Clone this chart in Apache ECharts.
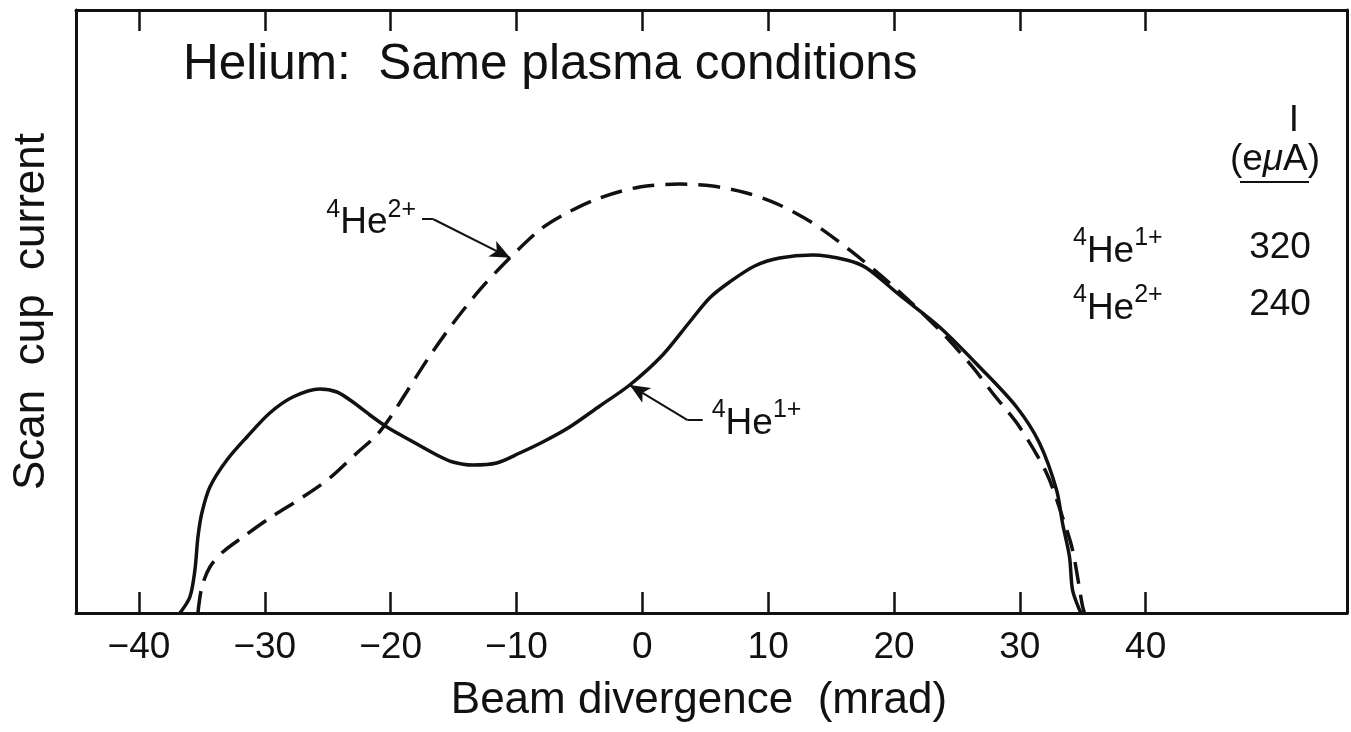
<!DOCTYPE html>
<html>
<head>
<meta charset="utf-8">
<title>Helium: Same plasma conditions</title>
<script src="https://cdn.jsdelivr.net/npm/echarts@6/dist/echarts.min.js"></script>
<style>
html, body { margin: 0; height: 100%; background: #fff; }
#main { width: 1351px; height: 732px; }
</style>
</head>
<body>
<div id="main"></div>
<script>
// tick labels along the divergence axis (mrad)
var divTicks = [-40, -30, -20, -10, 0, 10, 20, 30, 40];

// 4He1+ (solid) - divergence (mrad) / scan cup current (arb. units, frame top = 100)
var he1Div = [-36.74, -35.95, -35.55, -35.31, -35.0, -34.36, -33.01, -31.42, -29.6, -27.77,
  -25.62, -24.27, -23.0, -21.65, -20.3, -18.48, -16.33, -15.06, -13.47, -11.57,
  -9.74, -7.91, -5.77, -3.38, -1.0, 1.62, 3.76, 5.35, 6.94, 8.93,
  10.91, 13.53, 16.23, 17.82, 20.44, 23.62, 26.8, 29.74, 31.56, 32.92,
  33.39, 33.95, 34.19, 34.74, 34.9];
var he1Cur = [0, 2.65, 7.13, 12.6, 16.58, 20.9, 25.37, 29.19, 33.17, 35.82,
  37.15, 36.65, 34.99, 32.84, 30.85, 28.69, 26.2, 25.04, 24.54, 24.88,
  26.53, 28.36, 30.85, 34.33, 37.81, 42.79, 48.26, 52.24, 54.89, 57.55,
  58.87, 59.37, 58.54, 57.21, 52.74, 47.43, 40.8, 34.16, 28.19, 20.4,
  14.93, 9.29, 3.81, 0.5, 0];

// 4He2+ (dashed)
var he2Div = [-35.31, -35.0, -34.36, -33.33, -31.74, -29.6, -26.97, -24.83, -22.68, -21.1,
  -20.06, -18.48, -16.89, -14.9, -12.92, -10.93, -8.15, -6.0, -3.38,
  -0.21, 2.97, 5.59, 8.29, 10.91, 13.53, 16.47, 19.65, 23.62, 26.24,
  27.83, 29.98, 32.12, 33.39, 34.19, 34.98, 35.14];
var he2Cur = [0, 4.31, 7.63, 10.12, 12.6, 15.75, 19.24, 22.39, 26.53, 29.52,
  32.34, 37.48, 42.62, 48.42, 53.57, 58.04, 63.52, 66.33, 68.82,
  70.65, 71.14, 70.81, 69.65, 67.66, 64.68, 60.2, 54.73, 46.93, 40.8,
  36.48, 30.85, 23.22, 15.92, 10.45, 1.16, 0];

// table on the right: charge state and current (e uA)
var tableCharge = ['1+', '2+'];
var tableCurrent = [320, 240];

var FONT = '"Liberation Sans", Arial, Helvetica, sans-serif';
var ink = '#111';

function pairs(xs, ys) {
  return xs.map(function (x, i) { return [x, ys[i]]; });
}
function ionText(q) {
  return '{sup|4}{base|He}{sup|' + q + '}';
}
var ionRich = {
  base: { fontSize: 37, fontFamily: FONT, color: ink, lineHeight: 44, verticalAlign: 'bottom' },
  sup: { fontSize: 25, fontFamily: FONT, color: ink, lineHeight: 23, verticalAlign: 'top' }
};

var frameLine = { show: true, onZero: false, lineStyle: { color: ink, width: 3 } };
var tickStyle = { show: true, inside: true, length: 21, customValues: divTicks,
  lineStyle: { color: ink, width: 2.5 } };

var myChart = echarts.init(document.getElementById('main'));

myChart.setOption({
  backgroundColor: '#fff',
  animation: false,
  grid: { left: 76, right: 4, top: 10, bottom: 119 },
  xAxis: [
    {
      type: 'value', min: -45, max: 56, position: 'bottom',
      axisLine: frameLine, axisTick: tickStyle, splitLine: { show: false },
      axisLabel: {
        customValues: divTicks, fontSize: 37, fontFamily: FONT, color: ink, margin: 16,
        formatter: function (v) { return v < 0 ? '\u2212' + (-v) : '' + v; }
      },
      name: 'Beam divergence  (mrad)', nameLocation: 'middle', nameGap: 66,
      nameTextStyle: { fontSize: 44, fontFamily: FONT, color: ink, padding: [0, 25, 0, 0] }
    },
    {
      type: 'value', min: -45, max: 56, position: 'top',
      axisLine: frameLine, axisTick: tickStyle, splitLine: { show: false },
      axisLabel: { show: false }
    }
  ],
  yAxis: [
    {
      type: 'value', min: 0, max: 100, position: 'left',
      axisLine: frameLine, axisTick: { show: false }, axisLabel: { show: false },
      splitLine: { show: false },
      name: 'Scan  cup  current', nameLocation: 'middle', nameRotate: 90, nameGap: 22,
      nameTextStyle: { fontSize: 44, fontFamily: FONT, color: ink }
    },
    {
      type: 'value', min: 0, max: 100, position: 'right',
      axisLine: frameLine, axisTick: { show: false }, axisLabel: { show: false },
      splitLine: { show: false }
    }
  ],
  series: [
    {
      name: '4He1+', type: 'line', data: pairs(he1Div, he1Cur),
      showSymbol: false, smooth: 0.3,
      lineStyle: { color: ink, width: 3.5 },
      markLine: {
        silent: true, symbol: ['none', 'arrow'], symbolSize: [13, 20],
        lineStyle: { color: ink, width: 2, type: 'solid' }, label: { show: false },
        data: [
          [{ coord: [4.8, 32.0], symbol: 'none' }, { coord: [3.6, 32.0], symbol: 'none' }],
          [{ coord: [3.6, 32.0] }, { coord: [-1.0, 37.8] }]
        ]
      },
      markPoint: {
        silent: true, symbol: 'circle', symbolSize: 0,
        data: [{
          coord: [4.8, 32.0],
          label: { show: true, position: 'right', distance: 9, formatter: ionText('1+'), rich: ionRich }
        }]
      }
    },
    {
      name: '4He2+', type: 'line', data: pairs(he2Div, he2Cur),
      showSymbol: false, smooth: 0.3,
      lineStyle: { color: ink, width: 3.5, type: [22, 11] },
      markLine: {
        silent: true, symbol: ['none', 'arrow'], symbolSize: [13, 20],
        lineStyle: { color: ink, width: 2, type: 'solid' }, label: { show: false },
        data: [
          [{ coord: [-17.5, 65.3], symbol: 'none' }, { coord: [-16.6, 65.3], symbol: 'none' }],
          [{ coord: [-16.6, 65.3] }, { coord: [-10.5, 58.9] }]
        ]
      },
      markPoint: {
        silent: true, symbol: 'circle', symbolSize: 0,
        data: [{
          coord: [-17.5, 65.3],
          label: { show: true, position: 'left', distance: 6, formatter: ionText('2+'), rich: ionRich }
        }]
      }
    }
  ],
  graphic: [
    { type: 'text', left: 183, top: 40,
      style: { text: 'Helium:  Same plasma conditions', font: '49.5px ' + FONT, fill: ink } },
    { type: 'text', x: 1294, y: 121,
      style: { text: 'I', font: '37px ' + FONT, fill: ink, align: 'center', verticalAlign: 'middle' } },
    { type: 'text', x: 1275, y: 160,
      style: { text: '(e{mu|\u03bc}A)', font: '37px ' + FONT, fill: ink, align: 'center', verticalAlign: 'middle',
        rich: { mu: { fontSize: 37, fontFamily: FONT, fontStyle: 'italic', color: ink } } } },
    { type: 'line', shape: { x1: 1240, y1: 182, x2: 1309, y2: 182 }, style: { stroke: ink, lineWidth: 2 } },
    { type: 'text', x: 1073, y: 248,
      style: { text: ionText(tableCharge[0]), rich: ionRich, fill: ink, verticalAlign: 'middle' } },
    { type: 'text', x: 1280, y: 248,
      style: { text: '' + tableCurrent[0], font: '37px ' + FONT, fill: ink, align: 'center', verticalAlign: 'middle' } },
    { type: 'text', x: 1073, y: 305,
      style: { text: ionText(tableCharge[1]), rich: ionRich, fill: ink, verticalAlign: 'middle' } },
    { type: 'text', x: 1280, y: 305,
      style: { text: '' + tableCurrent[1], font: '37px ' + FONT, fill: ink, align: 'center', verticalAlign: 'middle' } }
  ]
});
</script>
</body>
</html>
